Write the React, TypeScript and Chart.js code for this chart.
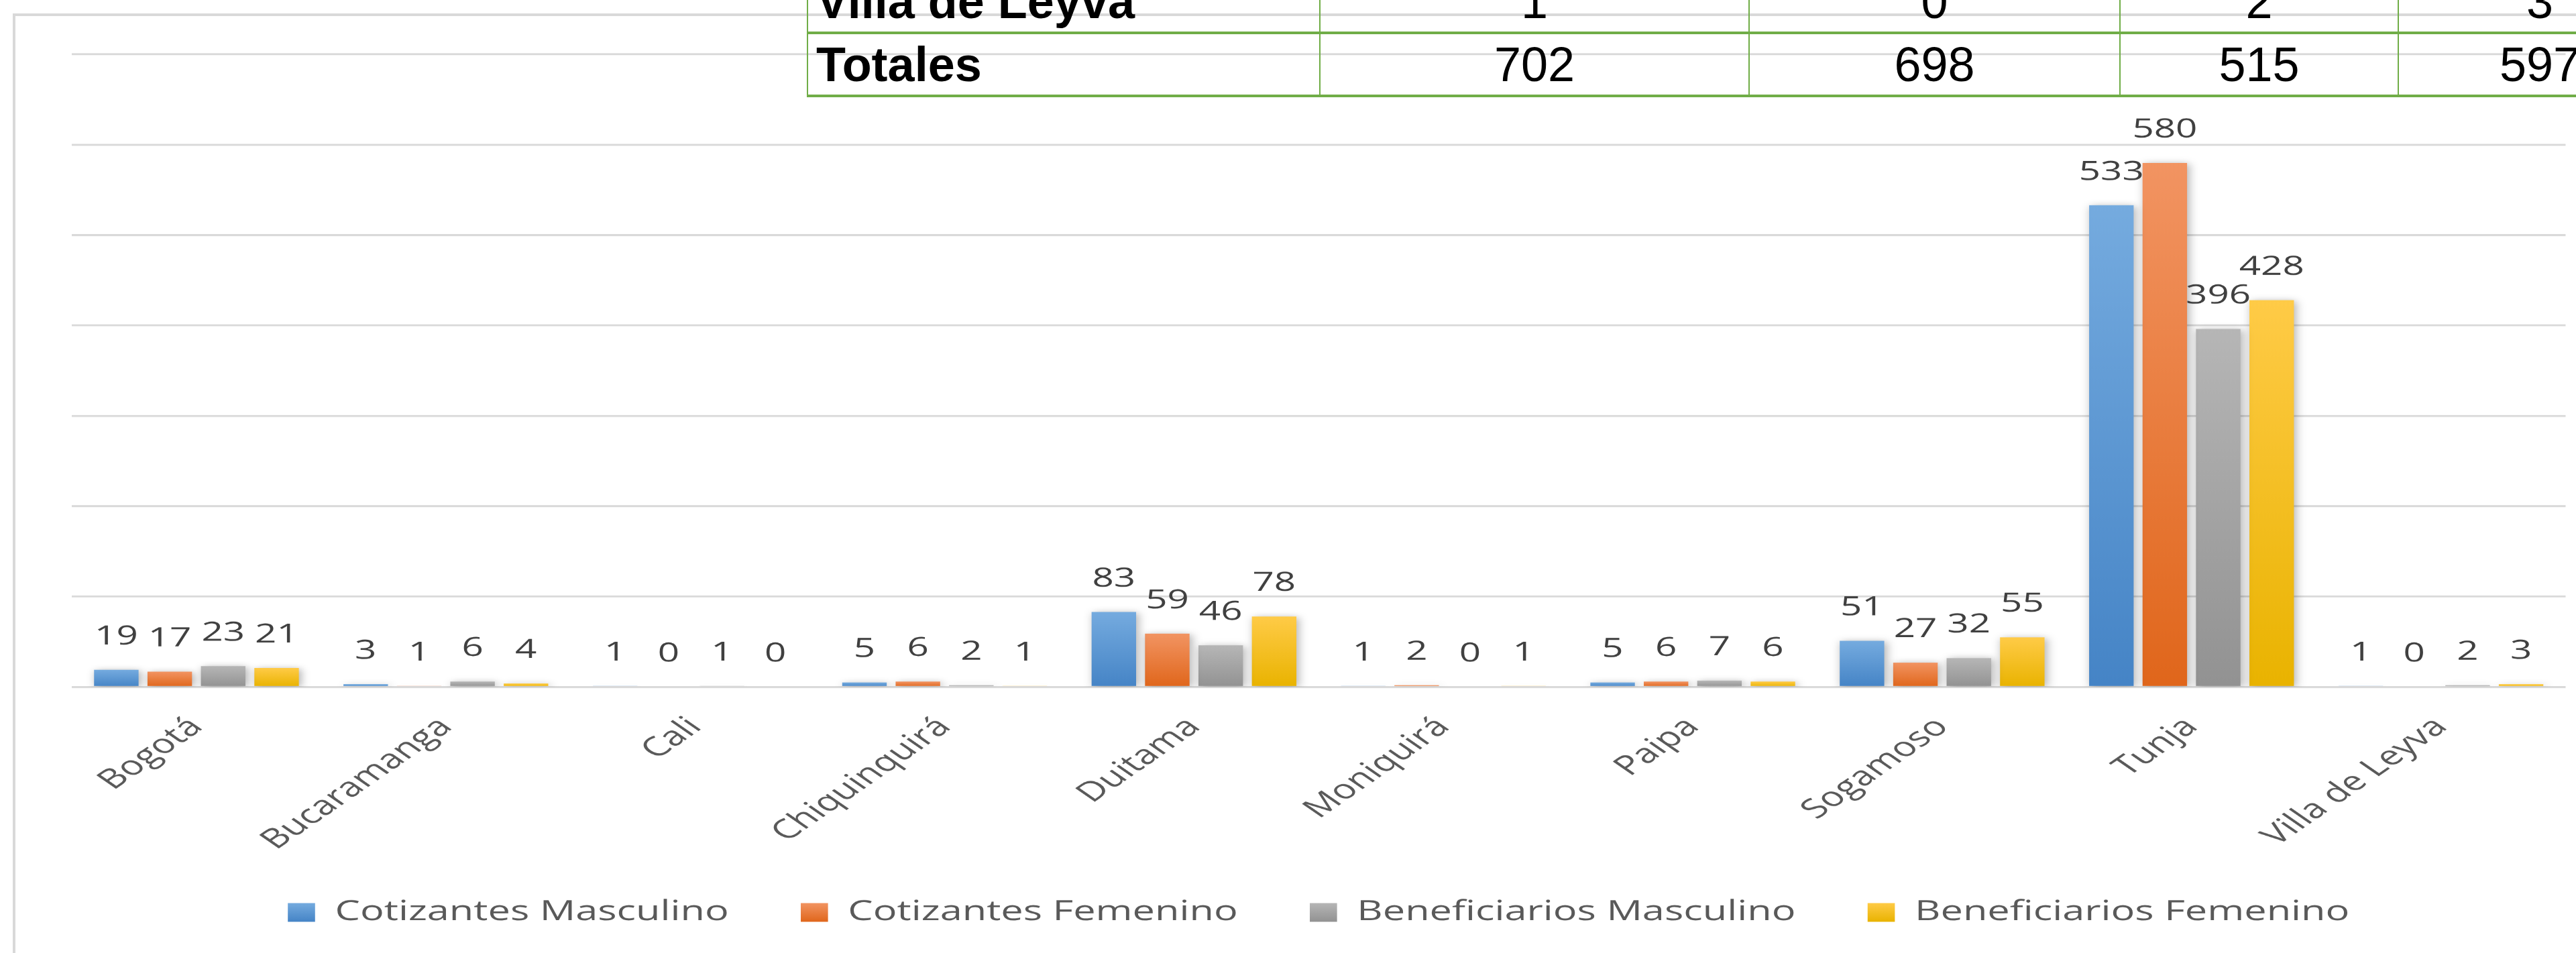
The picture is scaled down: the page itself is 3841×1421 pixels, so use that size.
import React, { useEffect, useRef } from 'react';
import { Chart, registerables } from 'chart.js';

Chart.register(...registerables);

// ---------- data ----------
const categories = ['Bogotá', 'Bucaramanga', 'Cali', 'Chiquinquirá', 'Duitama', 'Moniquirá', 'Paipa', 'Sogamoso', 'Tunja', 'Villa de Leyva'];
const cotizantesMasculino = [19, 3, 1, 5, 83, 1, 5, 51, 533, 1];
const cotizantesFemenino = [17, 1, 0, 6, 59, 2, 6, 27, 580, 0];
const beneficiariosMasculino = [23, 6, 1, 2, 46, 0, 7, 32, 396, 2];
const beneficiariosFemenino = [21, 4, 0, 1, 78, 1, 6, 55, 428, 3];
const seriesNames = ['Cotizantes Masculino', 'Cotizantes Femenino', 'Beneficiarios Masculino', 'Beneficiarios Femenino'];
const yMin = 0;
const yMax = 700;
const yStep = 100;

// table overlay (partially visible rows)
const tableRowVilla = ['Villa de Leyva', '1', '0', '2', '3'];
const tableRowTotales = ['Totales', '702', '698', '515', '597'];

// ---------- styles / layout ----------
const seriesColors = [
  { top: '#75ABDF', bottom: '#4584C6', solid: '#5B9BD5' },
  { top: '#F29462', bottom: '#E0661B', solid: '#ED7D31' },
  { top: '#B6B6B6', bottom: '#929292', solid: '#A5A5A5' },
  { top: '#FFCB47', bottom: '#E9B300', solid: '#FFC000' },
];

const PAGE_W = 3841;
const PAGE_H = 1421;
const CHART_W = 2649;
const K = PAGE_W / CHART_W; // horizontal stretch of the original picture
const DPR = (PAGE_W + 0.5) / CHART_W;

const PLOT_LEFT = 107;
const PLOT_RIGHT = 3825;
const PLOT_TOP = 81;
const PLOT_BOTTOM = 1024;
const LEGEND_TEXT_Y = 1360;
const LEGEND_FONT = 41;
const LEGEND_PAD = 74;
const LEGEND_BOX = 28;
const legendTop = LEGEND_TEXT_Y - LEGEND_PAD - LEGEND_FONT / 2;
const legendHeight = LEGEND_FONT + LEGEND_PAD + 10;
const xAxisHeight = legendTop - PLOT_BOTTOM;
const padBottom = PAGE_H - legendTop - legendHeight;

const tableColX = [1204, 1968, 2608, 3161, 3576, 3998];
const tableRowY = [-45, 49, 143];
const green = '#70AD47';

const makeBg = (i: number) => (ctx: any) => {
  const c = seriesColors[i];
  const chart = ctx.chart;
  if (ctx.type !== 'data' || !chart.chartArea || !chart.scales || !chart.scales.y) return c.solid;
  const ys = chart.scales.y;
  const v = ctx.raw as number;
  const yTop = ys.getPixelForValue(v);
  const yBot = ys.getPixelForValue(0);
  if (!isFinite(yTop) || !isFinite(yBot) || yBot - yTop < 1) return c.solid;
  const g = chart.ctx.createLinearGradient(0, yTop, 0, yBot);
  g.addColorStop(0, c.top);
  g.addColorStop(1, c.bottom);
  return g;
};

const barDecor = {
  id: 'barDecor',
  beforeDatasetsDraw(chart: any) {
    const ctx = chart.ctx;
    ctx.save();
    ctx.shadowColor = 'rgba(0,0,0,0.32)';
    ctx.shadowBlur = 14;
    ctx.shadowOffsetX = 3;
    ctx.shadowOffsetY = 2;
  },
  afterDatasetsDraw(chart: any) {
    const ctx = chart.ctx;
    ctx.restore();
    ctx.save();
    ctx.font = '39px "Open Sans"';
    ctx.fillStyle = '#404040';
    ctx.textAlign = 'center';
    ctx.textBaseline = 'alphabetic';
    chart.data.datasets.forEach((ds: any, di: number) => {
      const meta = chart.getDatasetMeta(di);
      meta.data.forEach((bar: any, idx: number) => {
        const v = ds.data[idx];
        ctx.fillText(String(v), bar.x, bar.y - 38);
      });
    });
    ctx.restore();
  },
};

export default function App() {
  const canvasRef = useRef<HTMLCanvasElement | null>(null);

  useEffect(() => {
    if (!canvasRef.current) return;
    Chart.defaults.font.family = '"Open Sans", sans-serif';
    const seriesData = [cotizantesMasculino, cotizantesFemenino, beneficiariosMasculino, beneficiariosFemenino];
    const chart = new Chart(canvasRef.current, {
      type: 'bar',
      data: {
        labels: categories,
        datasets: seriesData.map((d, i) => ({
          label: seriesNames[i],
          data: d,
          backgroundColor: makeBg(i),
          borderWidth: 0,
          categoryPercentage: 0.857,
          barPercentage: 0.833,
        })),
      },
      options: {
        animation: false,
        responsive: true,
        maintainAspectRatio: false,
        devicePixelRatio: DPR,
        layout: {
          padding: {
            left: PLOT_LEFT / K,
            right: CHART_W - PLOT_RIGHT / K,
            top: PLOT_TOP,
            bottom: padBottom,
          },
        },
        plugins: {
          legend: {
            position: 'bottom',
            labels: {
              font: { size: LEGEND_FONT },
              color: '#595959',
              boxWidth: LEGEND_BOX,
              boxHeight: LEGEND_BOX,
              padding: LEGEND_PAD,
              generateLabels: (ch: any) => {
                const boxTop = LEGEND_TEXT_Y - LEGEND_BOX / 2;
                return seriesNames.map((n, i) => {
                  const g = ch.ctx.createLinearGradient(0, boxTop, 0, boxTop + LEGEND_BOX);
                  g.addColorStop(0, seriesColors[i].top);
                  g.addColorStop(1, seriesColors[i].bottom);
                  return {
                    text: n,
                    fillStyle: g,
                    strokeStyle: 'rgba(0,0,0,0)',
                    lineWidth: 0,
                    hidden: false,
                    datasetIndex: i,
                    fontColor: '#595959',
                  };
                });
              },
            },
          },
          tooltip: { enabled: false },
        },
        scales: {
          x: {
            grid: { display: false, drawTicks: false },
            border: { display: false },
            ticks: {
              autoSkip: false,
              maxRotation: 45,
              minRotation: 45,
              padding: 36,
              color: '#595959',
              font: { size: 40 },
            },
            afterFit: (s: any) => {
              s.height = xAxisHeight;
            },
          },
          y: {
            min: yMin,
            max: yMax,
            ticks: { display: false, stepSize: yStep },
            grid: { color: '#D9D9D9', lineWidth: 3, drawTicks: false },
            border: { display: false },
            afterFit: (s: any) => {
              s.width = 0;
            },
          },
        },
      },
      plugins: [barDecor],
    });
    return () => chart.destroy();
  }, []);

  const cellText = (text: string, col: number, row: number) => {
    const left = tableColX[col];
    const width = tableColX[col + 1] - tableColX[col];
    const top = tableRowY[row];
    const height = tableRowY[row + 1] - tableRowY[row];
    const first = col === 0;
    return (
      <div
        key={`c${row}-${col}`}
        style={{
          position: 'absolute',
          left,
          top,
          width,
          height,
          display: 'flex',
          alignItems: 'center',
          justifyContent: first ? 'flex-start' : 'center',
          paddingLeft: first ? 13 : 0,
          boxSizing: 'border-box',
          fontFamily: '"Liberation Sans", Arial, sans-serif',
          fontSize: 72,
          fontWeight: first ? 700 : 400,
          color: '#000',
          whiteSpace: 'nowrap',
        }}
      >
        {text}
      </div>
    );
  };

  return (
    <div
      style={{
        position: 'fixed',
        left: 0,
        top: 0,
        width: PAGE_W,
        height: PAGE_H,
        overflow: 'hidden',
        background: '#ffffff',
      }}
    >
      {/* outer chart border */}
      <div
        style={{
          position: 'absolute',
          left: 19,
          top: 20,
          width: PAGE_W,
          height: PAGE_H,
          borderLeft: '4px solid #D9D9D9',
          borderTop: '4px solid #D9D9D9',
        }}
      />
      <div
        style={{
          position: 'absolute',
          left: 0,
          top: 0,
          width: CHART_W,
          height: PAGE_H,
          transform: `scaleX(${K})`,
          transformOrigin: '0 0',
        }}
      >
        <canvas ref={canvasRef} />
      </div>
      {/* table overlay */}
      <div style={{ position: 'absolute', left: 0, top: 0, width: PAGE_W, height: 200 }}>
        {tableRowY.slice(1).map((y, i) => (
          <div
            key={`h${i}`}
            style={{ position: 'absolute', left: tableColX[0] - 1, top: y - 2, width: PAGE_W, height: 4, background: green }}
          />
        ))}
        {tableColX.slice(0, 5).map((x, i) => (
          <div
            key={`v${i}`}
            style={{ position: 'absolute', left: x - 1, top: -60, width: 2, height: 60 + tableRowY[2] + 2, background: green }}
          />
        ))}
        {tableRowVilla.map((t, c) => cellText(t, c, 0))}
        {tableRowTotales.map((t, c) => cellText(t, c, 1))}
      </div>
    </div>
  );
}
